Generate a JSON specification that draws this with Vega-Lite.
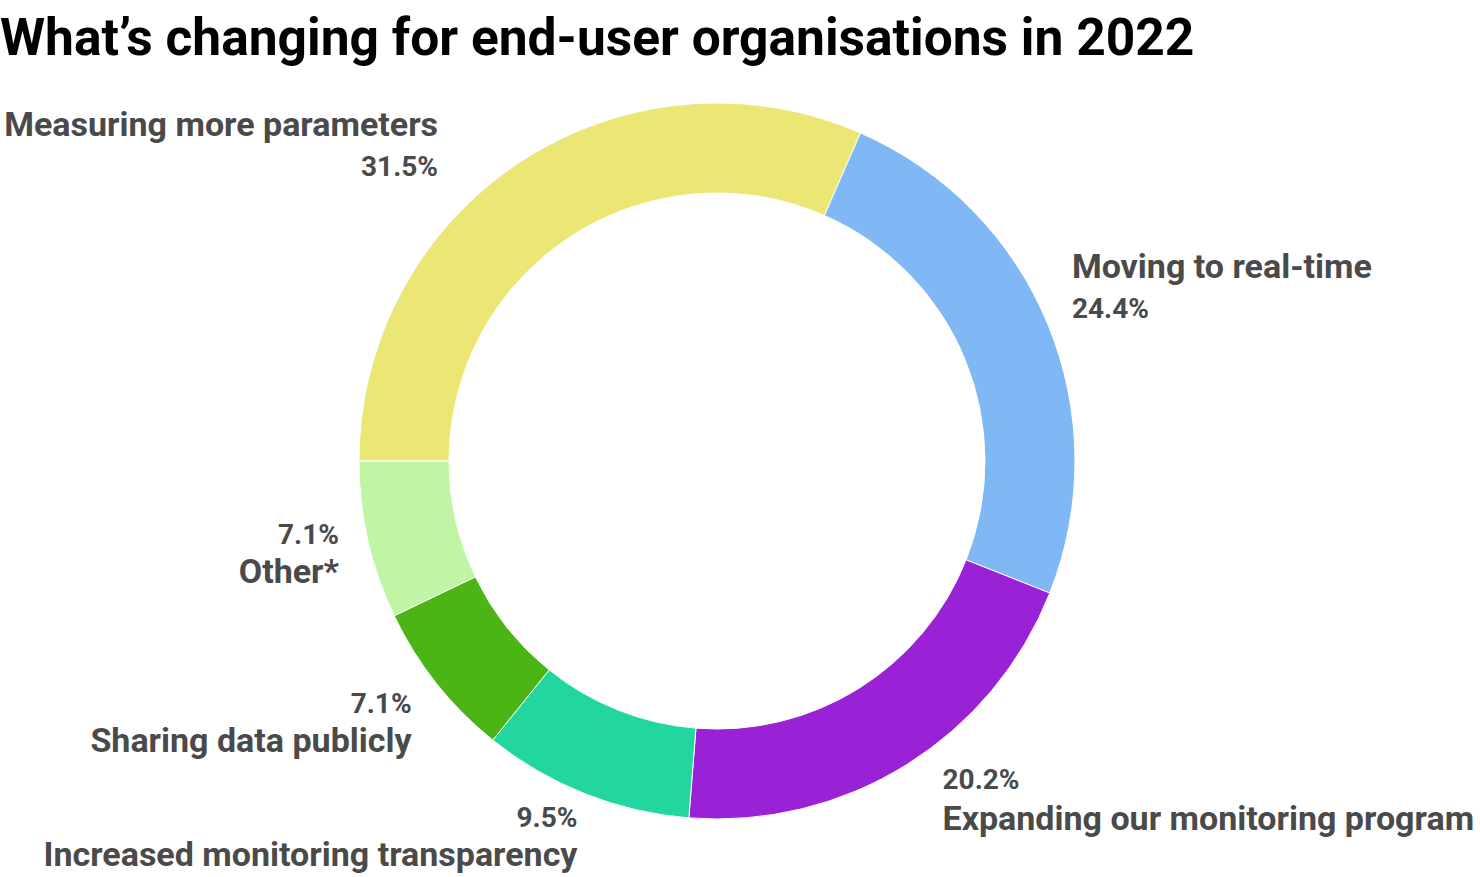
{
  "$schema": "https://vega.github.io/schema/vega-lite/v6.json",
  "autosize": "none",
  "width": 1434,
  "height": 782,
  "padding": {"top": 70, "left": 0, "right": 46, "bottom": 25},
  "background": "white",
  "title": {
    "text": "What’s changing for end-user organisations in 2022",
    "anchor": "start",
    "frame": "group",
    "font": "Roboto",
    "fontSize": 51.5,
    "fontWeight": "bold",
    "color": "#000000",
    "offset": 5
  },
  "data": {
    "values": [
      {"category": "Measuring more parameters", "value": 31.5, "label": "31.5%", "i": 1},
      {"category": "Moving to real-time", "value": 24.4, "label": "24.4%", "i": 2},
      {"category": "Expanding our monitoring program", "value": 20.2, "label": "20.2%", "i": 3},
      {"category": "Increased monitoring transparency", "value": 9.5, "label": "9.5%", "i": 4},
      {"category": "Sharing data publicly", "value": 7.1, "label": "7.1%", "i": 5},
      {"category": "Other*", "value": 7.1, "label": "7.1%", "i": 6}
    ]
  },
  "encoding": {
    "theta": {"field": "value", "type": "quantitative", "stack": true, "scale": {"range": [4.712389, 10.995574]}},
    "order": {"field": "i", "type": "quantitative"}
  },
  "layer": [
    {
      "mark": {"type": "arc", "outerRadius": 358, "innerRadius": 268, "stroke": "white", "strokeWidth": 1},
      "encoding": {
        "color": {
          "field": "category",
          "type": "nominal",
          "legend": null,
          "scale": {
            "domain": ["Measuring more parameters", "Moving to real-time", "Expanding our monitoring program", "Increased monitoring transparency", "Sharing data publicly", "Other*"],
            "range": ["#ece675", "#80b8f5", "#9a22d6", "#22d6a0", "#4ab515", "#c1f5a6"]
          }
        }
      }
    },
    {
      "mark": {
        "type": "text",
        "radius": 400,
        "font": "Roboto",
        "fontSize": 34,
        "fontWeight": "bold",
        "color": "#4a4a4a",
        "baseline": "alphabetic",
        "align": {"expr": "indexof(['Moving to real-time','Expanding our monitoring program'], datum.category) >= 0 ? 'left' : 'right'"},
        "dx": {"expr": "datum.category == 'Measuring more parameters' ? -60 : datum.category == 'Moving to real-time' ? -15 : datum.category == 'Expanding our monitoring program' ? 14 : datum.category == 'Other*' ? 12 : 8"},
        "dy": {"expr": "datum.category == 'Measuring more parameters' ? 10 : datum.category == 'Moving to real-time' ? -31 : datum.category == 'Expanding our monitoring program' ? 29 : datum.category == 'Sharing data publicly' ? 42 : 33"}
      },
      "encoding": {"text": {"field": "category"}}
    },
    {
      "mark": {
        "type": "text",
        "radius": 400,
        "font": "Roboto",
        "fontSize": 28,
        "fontWeight": "bold",
        "color": "#4a4a4a",
        "baseline": "alphabetic",
        "align": {"expr": "indexof(['Moving to real-time','Expanding our monitoring program'], datum.category) >= 0 ? 'left' : 'right'"},
        "dx": {"expr": "datum.category == 'Measuring more parameters' ? -60 : datum.category == 'Moving to real-time' ? -15 : datum.category == 'Expanding our monitoring program' ? 14 : datum.category == 'Other*' ? 12 : 8"},
        "dy": {"expr": "datum.category == 'Measuring more parameters' ? 50 : datum.category == 'Moving to real-time' ? 9 : datum.category == 'Expanding our monitoring program' ? -12 : datum.category == 'Sharing data publicly' ? 3 : -6"}
      },
      "encoding": {"text": {"field": "label"}}
    }
  ]
}
